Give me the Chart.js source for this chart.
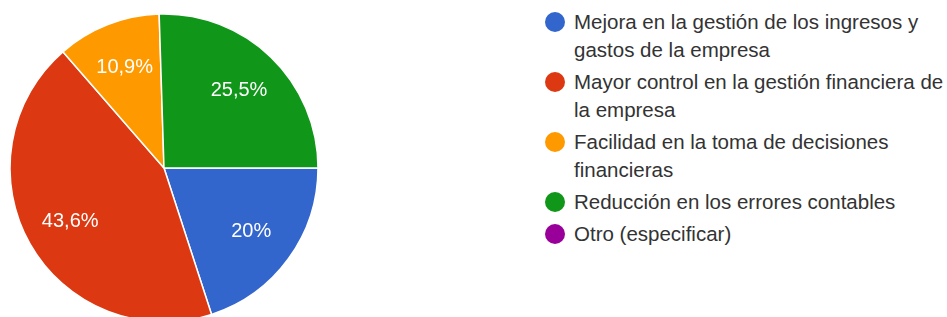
<!DOCTYPE html>
<html lang="es">
  <head>
    <meta charset="UTF-8" />
    <title>Pie</title>
    <script src="https://cdn.jsdelivr.net/npm/chart.js"></script>
    <style>
      html, body {
        margin: 0;
        padding: 0;
        background: #fff;
        overflow: hidden;
        width: 947px;
        height: 317px;
        font-family: "Liberation Sans", Arial, sans-serif;
      }
      #wrap {
        position: absolute;
        left: 0;
        top: 0;
        width: 328px;
        height: 336px;
      }
      #legend {
        position: absolute;
        left: 545px;
        top: 8px;
        margin: 0;
        padding: 0;
        list-style: none;
      }
      #legend li {
        position: relative;
        padding-left: 29px;
        font-size: 20.5px;
        line-height: 28px;
        color: #333;
        margin-bottom: 4px;
        white-space: nowrap;
      }
      #legend li span.dot {
        position: absolute;
        left: 0;
        top: 4px;
        width: 20px;
        height: 20px;
        border-radius: 50%;
      }
    </style>
  </head>
  <body>
    <div id="wrap"><canvas id="pie"></canvas></div>
    <ul id="legend"></ul>

    <script>
      const categories = [
        "Mejora en la gestión de los ingresos y gastos de la empresa",
        "Mayor control en la gestión financiera de la empresa",
        "Facilidad en la toma de decisiones financieras",
        "Reducción en los errores contables",
        "Otro (especificar)",
      ];
      // how the legend text wraps in the picture
      const legendLines = [
        ["Mejora en la gestión de los ingresos y", "gastos de la empresa"],
        ["Mayor control en la gestión financiera de", "la empresa"],
        ["Facilidad en la toma de decisiones", "financieras"],
        ["Reducción en los errores contables"],
        ["Otro (especificar)"],
      ];
      const values = [20, 43.6, 10.9, 25.5, 0];
      const colors = ["#3366cc", "#dc3912", "#ff9900", "#109618", "#990099"];

      // legend
      const legend = document.getElementById("legend");
      legendLines.forEach((lines, i) => {
        const li = document.createElement("li");
        const dot = document.createElement("span");
        dot.className = "dot";
        dot.style.background = colors[i];
        li.appendChild(dot);
        li.appendChild(document.createTextNode(lines[0]));
        for (let k = 1; k < lines.length; k++) {
          li.appendChild(document.createElement("br"));
          li.appendChild(document.createTextNode(lines[k]));
        }
        legend.appendChild(li);
      });

      // percent labels inside slices
      const sliceLabels = {
        id: "sliceLabels",
        afterDatasetsDraw(chart) {
          const { ctx } = chart;
          const meta = chart.getDatasetMeta(0);
          ctx.save();
          ctx.fillStyle = "#fff";
          ctx.font = "20px 'Liberation Sans', Arial, sans-serif";
          ctx.textAlign = "center";
          ctx.textBaseline = "middle";
          meta.data.forEach((arc, i) => {
            const v = values[i];
            if (!v) return;
            const p = arc.getProps(["x", "y", "startAngle", "endAngle", "outerRadius"], true);
            const mid = (p.startAngle + p.endAngle) / 2;
            const r = p.outerRadius * 0.7;
            const txt = String(v).replace(".", ",") + "%";
            ctx.fillText(txt, p.x + Math.cos(mid) * r, p.y + Math.sin(mid) * r);
          });
          ctx.restore();
        },
      };

      new Chart(document.getElementById("pie"), {
        type: "pie",
        data: {
          labels: categories,
          datasets: [
            {
              data: values,
              backgroundColor: colors,
              borderColor: "#fff",
              borderWidth: 1.5,
              radius: 154,
            },
          ],
        },
        options: {
          responsive: true,
          maintainAspectRatio: false,
          animation: false,
          rotation: 90,
          layout: { padding: 0 },
          plugins: {
            legend: { display: false },
            tooltip: { enabled: false },
          },
        },
        plugins: [sliceLabels],
      });
    </script>
  </body>
</html>
